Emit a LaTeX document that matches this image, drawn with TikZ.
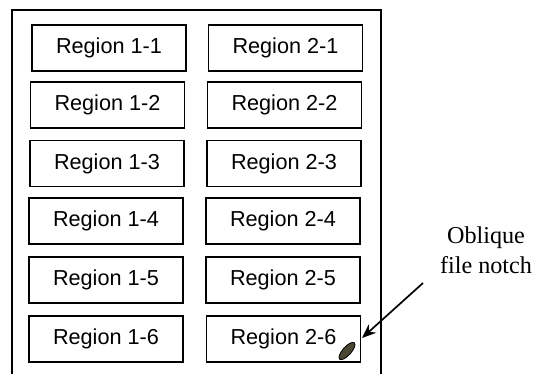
\documentclass[tikz,border=0pt]{standalone}
\usepackage{fontspec}
\setmainfont{Liberation Serif}
\setsansfont{Liberation Sans}
\usepackage{tikz}
\usetikzlibrary{arrows.meta,shapes.geometric}

\begin{document}
\begin{tikzpicture}[x=0.025cm, y=-0.025cm]

\tikzstyle{region} = [rectangle, draw, line width=1pt, minimum width=3.85cm, minimum height=1.15cm, inner sep=0pt, font=\sffamily\fontsize{15.4}{18}\selectfont]

\useasboundingbox (0,0) rectangle (539,374);

\draw[line width=1.3pt] (12,374) -- (12,10) -- (381,10) -- (381,374);

\node[region] (r11) at (109,48)    {Region 1-1};
\node[region] (r12) at (107.5,105) {Region 1-2};
\node[region] (r13) at (107,163.5) {Region 1-3};
\node[region] (r14) at (106,221)   {Region 1-4};
\node[region] (r15) at (106,280)   {Region 1-5};
\node[region] (r16) at (106,339)   {Region 1-6};

\node[region] (r21) at (285.5,48)  {Region 2-1};
\node[region] (r22) at (284.5,105) {Region 2-2};
\node[region] (r23) at (284,163.5) {Region 2-3};
\node[region] (r24) at (283,221)   {Region 2-4};
\node[region] (r25) at (283,280)   {Region 2-5};
\node[region] (r26) at (283.5,339) {Region 2-6};

\node[ellipse, draw, line width=0.6pt, fill={rgb,255:red,75;green,70;blue,50}, minimum width=0.55cm, minimum height=0.21cm, inner sep=0pt, rotate=48] (n) at (347,351) {};

\node[align=center, font=\fontsize{17.2}{21}\selectfont] (t) at (486,250) {Oblique\\file notch};

\coordinate (a) at (423,283);
\coordinate (b) at (362,338);
\draw[line width=1.2pt, -{Stealth[length=10pt, width=8pt]}] (a) -- (b);

\end{tikzpicture}
\end{document}
